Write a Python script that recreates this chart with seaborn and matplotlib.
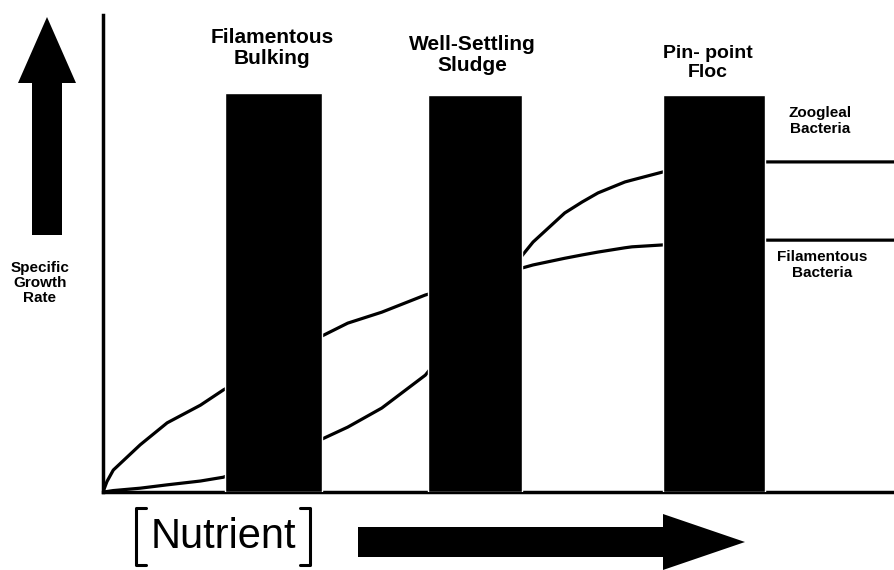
# Nutrient concentration vs specific growth rate (floc formation diagram)

import matplotlib
matplotlib.use("Agg")
import matplotlib.pyplot as plt
from matplotlib.patches import FancyArrow
import seaborn as sns

# Data (x = nutrient concentration, y = specific growth rate, 0-100 scale)
nutrient = [0, 0.5, 1.3, 4.7, 8.1, 12.3, 15.2, 27.4, 30.9, 35.2, 40.7, 54.3, 58.3, 60.5,
            62.5, 65.9, 66.8, 70.7, 83.6, 100]
filamentous = [0, 2.2, 4.6, 9.9, 14.5, 18.2, 21.4, 32.5, 35.4, 37.7, 41.3, 47.6, 49.0, 49.7,
               50.3, 51.2, 51.4, 51.8, 52.8, 52.8]
zoogleal = [0, 0.1, 0.3, 0.8, 1.5, 2.3, 3.1, 10.9, 13.6, 17.6, 24.5, 52.4, 58.5, 60.8,
            62.7, 65.0, 65.4, 67.1, 69.2, 69.2]

zone_labels = ["Filamentous\nBulking", "Well-Settling\nSludge", "Pin- point\nFloc"]
zone_left = [15.4, 41.0, 70.7]
zone_right = [27.7, 52.9, 83.6]
zone_top = [83.6, 83.2, 83.2]

sns.set_style("white")
plt.rcParams['font.family'] = ['Liberation Sans', 'DejaVu Sans']
plt.rcParams['text.color'] = 'black'

fig = plt.figure(figsize=(8.95, 5.70), dpi=100)
ax = fig.add_axes([103/895, 78/570, 792/895, 477/570])

sns.lineplot(x=nutrient, y=filamentous, color='black', lw=2.3, ax=ax, zorder=2)
sns.lineplot(x=nutrient, y=zoogleal, color='black', lw=2.3, ax=ax, zorder=2)

centers = [(l + r) / 2 for l, r in zip(zone_left, zone_right)]
widths = [r - l for l, r in zip(zone_left, zone_right)]
ax.bar(centers, zone_top, width=widths, color='black', zorder=3)

ax.set_xlim(0, 100)
ax.set_ylim(0, 100)
ax.set_xticks([])
ax.set_yticks([])
for side in ['top', 'right']:
    ax.spines[side].set_visible(False)
for side in ['left', 'bottom']:
    ax.spines[side].set_linewidth(2.5)
    ax.spines[side].set_color('black')

# overlay in pixel coordinates for arrows and labels
ov = fig.add_axes([0, 0, 1, 1], zorder=5)
ov.set_xlim(0, 895)
ov.set_ylim(570, 0)
ov.axis('off')
ov.patch.set_alpha(0)

ov.add_patch(FancyArrow(47, 235, 0, -218, width=30, head_width=58, head_length=66,
                        length_includes_head=True, color='black', lw=0))
ov.add_patch(FancyArrow(358, 542, 387, 0, width=30, head_width=56, head_length=82,
                        length_includes_head=True, color='black', lw=0))

ov.text(40, 283, "Specific\nGrowth\nRate", ha='center', va='center', fontsize=11,
        fontweight='bold', linespacing=1.05)

label_pos = [(272, 48, 15), (472, 55, 15), (708, 63, 14)]
for lab, (x, y, fs) in zip(zone_labels, label_pos):
    ov.text(x, y, lab, ha='center', va='center', fontsize=fs, fontweight='bold',
            linespacing=1.1)

ov.text(820, 121, "Zoogleal\nBacteria", ha='center', va='center', fontsize=11,
        fontweight='bold', linespacing=1.15)
ov.text(822, 265, "Filamentous\nBacteria", ha='center', va='center', fontsize=11,
        fontweight='bold', linespacing=1.15)

ov.text(223, 537, "Nutrient", ha='center', va='center', fontsize=30)
ov.plot([146, 136, 136, 146], [508, 508, 565, 565], color='black', lw=2.2)
ov.plot([300, 310, 310, 300], [508, 508, 565, 565], color='black', lw=2.2)

fig.savefig("out.png", dpi=100)
